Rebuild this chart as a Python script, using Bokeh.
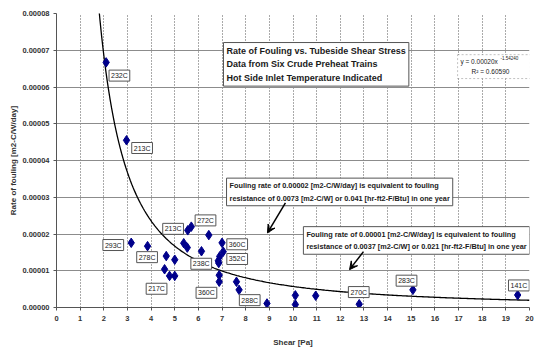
import numpy as np
from bokeh.plotting import figure
from bokeh.models import (Range1d, FixedTicker, PrintfTickFormatter, Label, Arrow,
                          VeeHead, ColumnDataSource, BoxAnnotation)
from bokeh.embed import file_html
from bokeh.resources import INLINE

# ---- data ----
shear = [2.10, 2.96, 3.16, 3.85, 4.64, 5.00, 4.57, 4.78, 5.00, 5.55, 5.70, 5.38, 5.53,
         6.44, 6.13, 7.00, 7.05, 6.90, 6.84, 6.86, 6.88, 6.88, 7.61, 7.72, 8.90, 10.10,
         10.10, 10.96, 12.80, 15.07, 19.50]
rate = [6.67e-5, 4.55e-5, 1.76e-5, 1.67e-5, 1.40e-5, 1.30e-5, 1.04e-5, 0.86e-5, 0.86e-5,
        2.10e-5, 2.20e-5, 1.75e-5, 1.63e-5, 1.97e-5, 1.53e-5, 1.76e-5, 1.52e-5, 1.39e-5,
        1.27e-5, 1.21e-5, 0.88e-5, 0.70e-5, 0.70e-5, 0.48e-5, 0.11e-5, 0.33e-5, 0.08e-5,
        0.32e-5, 0.09e-5, 0.48e-5, 0.34e-5]

temp_labels = ["232C", "213C", "293C", "278C", "217C", "213C", "272C", "360C", "352C",
               "238C", "360C", "288C", "270C", "283C", "141C"]
temp_label_x = [2.66, 3.62, 2.40, 3.83, 4.23, 4.93, 6.30, 7.64, 7.64, 6.12, 6.34, 8.17,
                12.78, 14.80, 19.55]
temp_label_y = [6.31e-5, 4.34e-5, 1.70e-5, 1.37e-5, 0.51e-5, 2.14e-5, 2.37e-5, 1.72e-5,
                1.32e-5, 1.19e-5, 0.40e-5, 0.20e-5, 0.42e-5, 0.73e-5, 0.60e-5]

trend_coef = 0.00020
trend_exp = -1.54240
trend_r2 = 0.60590
trend_x_start, trend_x_end = 1.78, 20.0

x_ticks = list(range(0, 21))
y_ticks = [0.0, 1e-5, 2e-5, 3e-5, 4e-5, 5e-5, 6e-5, 7e-5, 8e-5]

FONT = "Liberation Sans"
TXT = "#1a1a1a"

p = figure(width=539, height=349, output_backend="svg", toolbar_location=None,
           x_range=Range1d(0, 20), y_range=Range1d(0, 8e-5),
           min_border_left=56, min_border_right=10, min_border_top=13, min_border_bottom=41)
p.outline_line_color = None
p.background_fill_color = "white"

# grids
p.xgrid.ticker = FixedTicker(ticks=x_ticks)
p.xgrid.grid_line_color = "#555555"
p.xgrid.grid_line_dash = "1 2"
p.xgrid.grid_line_width = 1
p.ygrid.ticker = FixedTicker(ticks=y_ticks)
p.ygrid.grid_line_color = "#8c8c8c"
p.ygrid.grid_line_width = 1.2

# axes
for ax in (p.xaxis[0], p.yaxis[0]):
    ax.axis_line_color = "#555555"
    ax.major_tick_line_color = "#555555"
    ax.major_tick_out = 3
    ax.major_tick_in = 0
    ax.minor_tick_line_color = None
    ax.major_label_text_font = FONT
    ax.major_label_text_font_size = "7.5px"
    ax.major_label_text_font_style = "bold"
    ax.major_label_text_color = "#333333"
    ax.axis_label_text_font = FONT
    ax.axis_label_text_font_size = "8px"
    ax.axis_label_text_font_style = "bold"
    ax.axis_label_text_color = "#333333"

p.xaxis.ticker = FixedTicker(ticks=x_ticks)
p.yaxis.ticker = FixedTicker(ticks=y_ticks)
p.yaxis.formatter = PrintfTickFormatter(format="%.5f")
p.xaxis.axis_label = "Shear [Pa]"
p.yaxis.axis_label = "Rate of fouling [m2-C/W/day]"
p.xaxis.major_label_standoff = 5
p.yaxis.major_label_standoff = 4
p.xaxis.axis_label_standoff = 14
p.yaxis.axis_label_standoff = 1

# trend line from displayed equation
tx = np.linspace(trend_x_start, trend_x_end, 300)
ty = trend_coef * tx ** trend_exp
p.line(tx, ty, line_color="black", line_width=1.3)

# data points
src = ColumnDataSource(dict(x=shear, y=rate))
p.scatter("x", "y", source=src, marker="diamond", size=9.5, fill_color="#00008b",
          line_color="#00008b")

# point labels
for t, lx, ly in zip(temp_labels, temp_label_x, temp_label_y):
    p.add_layout(Label(x=lx, y=ly, text=t, text_align="center", text_baseline="middle",
                       text_font=FONT, text_font_size="7px", text_color=TXT,
                       background_fill_color="white", border_line_color="#555555",
                       border_line_width=1, padding=2))

# title box
p.add_layout(Label(x=7.06, y=7.21e-5, text="Rate of Fouling vs. Tubeside Shear Stress\n"
                   "Data from Six Crude Preheat Trains\nHot Side Inlet Temperature Indicated",
                   text_align="left", text_baseline="top", text_font=FONT,
                   text_font_size="9px", text_font_style="bold", text_color=TXT,
                   text_line_height=1.38, background_fill_color="white",
                   border_line_color="#555555", border_line_width=1, padding=3))

# equation box
p.add_layout(BoxAnnotation(left=16.96, right=20.04, top=6.88e-5, bottom=6.23e-5,
                           fill_color="white", fill_alpha=1.0, line_color="#333333",
                           line_dash="2 2", line_width=1))
p.add_layout(Label(x=17.08, y=6.69e-5, text=f"y = {trend_coef:.5f}x", text_align="left",
                   text_baseline="middle", text_font=FONT, text_font_size="6.5px",
                   text_color=TXT))
p.add_layout(Label(x=18.77, y=6.79e-5, text=f"{trend_exp:.5f}", text_align="left",
                   text_baseline="middle", text_font=FONT, text_font_size="4.5px",
                   text_color=TXT))
p.add_layout(Label(x=18.35, y=6.42e-5, text=f"R² = {trend_r2:.5f}", text_align="center",
                   text_baseline="middle", text_font=FONT, text_font_size="6.5px",
                   text_color=TXT))

# annotation boxes
p.add_layout(Label(x=7.19, y=3.52e-5,
                   text="Fouling rate of 0.00002 [m2-C/W/day] is equivalent to fouling\n"
                        "resistance of 0.0073 [m2-C/W] or 0.041 [hr-ft2-F/Btu] in one year",
                   text_align="left", text_baseline="top", text_font=FONT,
                   text_font_size="7.3px", text_font_style="bold", text_color=TXT,
                   text_line_height=1.4, background_fill_color="white",
                   border_line_color="#555555", border_line_width=1, padding=3))
p.add_layout(Label(x=10.44, y=2.20e-5,
                   text="Fouling rate of 0.00001 [m2-C/W/day] is equivalent to fouling\n"
                        "resistance of 0.0037 [m2-C/W] or 0.021 [hr-ft2-F/Btu] in one year",
                   text_align="left", text_baseline="top", text_font=FONT,
                   text_font_size="7.3px", text_font_style="bold", text_color=TXT,
                   text_line_height=1.4, background_fill_color="white",
                   border_line_color="#555555", border_line_width=1, padding=3))

p.add_layout(Arrow(x_start=9.68, y_start=2.85e-5, x_end=8.92, y_end=2.03e-5,
                   line_width=1.5, line_color="black",
                   end=VeeHead(size=8, fill_color="black", line_color="black")))
p.add_layout(Arrow(x_start=12.98, y_start=1.52e-5, x_end=12.39, y_end=1.03e-5,
                   line_width=1.5, line_color="black",
                   end=VeeHead(size=8, fill_color="black", line_color="black")))

open("out.html", "w").write(file_html(p, INLINE))
